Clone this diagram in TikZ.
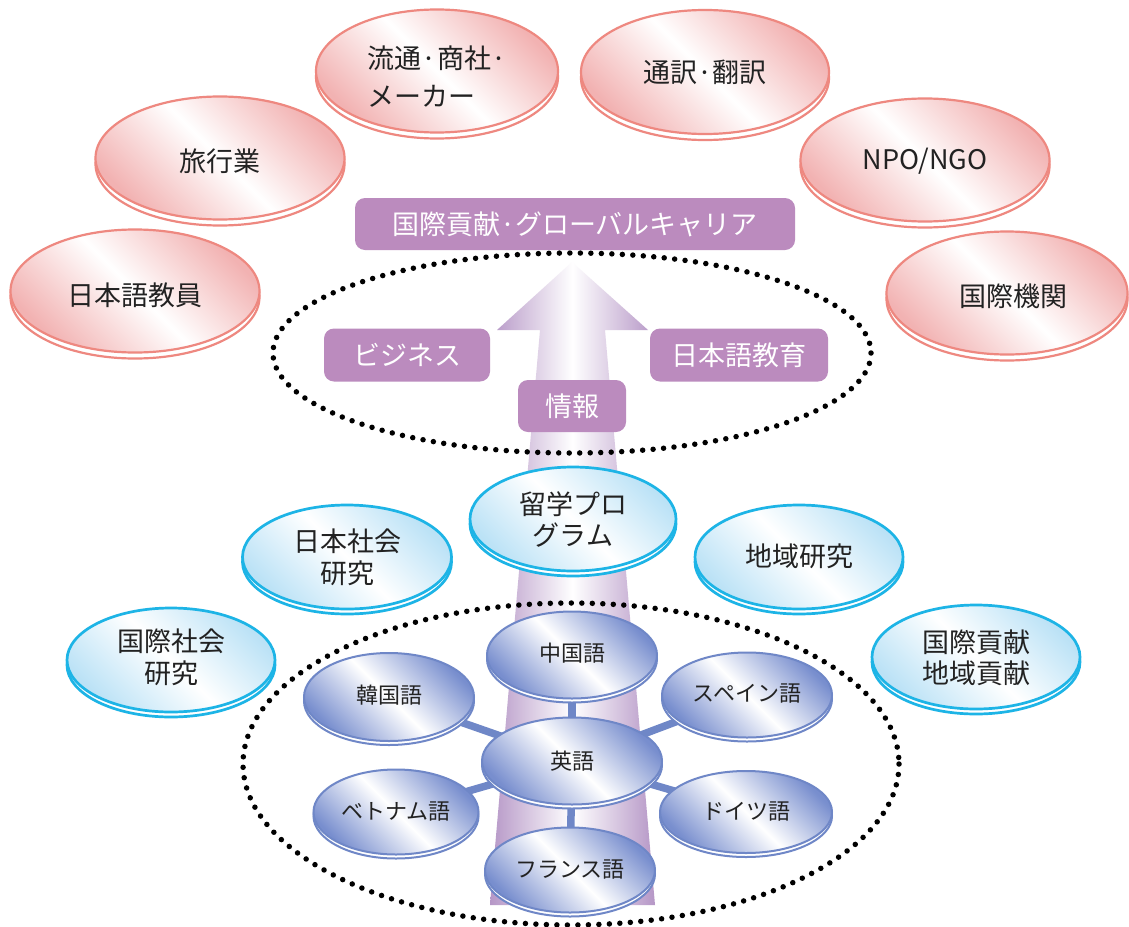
\documentclass[tikz,border=0pt]{standalone}
\usepackage{fontspec}
\setmainfont{Noto Sans CJK JP}
\usetikzlibrary{shapes.geometric}
\definecolor{redline}{HTML}{EE8880}
\definecolor{redfill}{HTML}{F2B2B2}
\definecolor{cyanline}{HTML}{1DB4E6}
\definecolor{cyanfill}{HTML}{BBE2F6}
\definecolor{langline}{HTML}{6F87C7}
\definecolor{langfill}{HTML}{788ECE}
\definecolor{boxpurple}{HTML}{BB8BBE}
\definecolor{arrowpurple}{HTML}{B596C6}
\definecolor{txt}{HTML}{222222}
\pgfdeclarelayer{bg}
\pgfsetlayers{bg,main}
% #1 style prefix, #2 name, #3 x, #4 y, #5 width, #6 height, #7 offset, #8 text, #9 text drop
\newcommand\mydisk[9]{%
  \node[#1back, minimum width=#5pt, minimum height=#6pt] (#2b) at (#3,#4+#7) {};
  \node[#1ell, minimum width=#5pt, minimum height=#6pt] (#2) at (#3,#4)
    {\raisebox{-#9pt}[\height][\depth]{\begin{tabular}{@{}c@{}}#8\end{tabular}}};}
\begin{document}
\begin{tikzpicture}[x=1pt,y=-1pt,
  baseell/.style={ellipse, inner sep=0pt, text=txt, align=center},
  redell/.style={baseell, draw=redline, line width=2.2pt, left color=redfill, right color=redfill, middle color=white, shading angle=-45, font=\fontsize{27}{34}\selectfont},
  redback/.style={baseell, draw=redline, line width=2.2pt, fill=white},
  cyanell/.style={baseell, draw=cyanline, line width=2.7pt, left color=cyanfill, right color=cyanfill, middle color=white, shading angle=-45, font=\fontsize{27}{30}\selectfont},
  cyanback/.style={baseell, draw=cyanline, line width=2.7pt, fill=white},
  langell/.style={baseell, draw=langline, line width=2pt, left color=langfill, right color=langfill, middle color=white, shading angle=-45, font=\fontsize{22}{26}\selectfont},
  langback/.style={baseell, draw=langline, line width=2pt, fill=white},
  pbox/.style={rounded corners=10pt, fill=boxpurple, text=white, inner sep=0pt, font=\fontsize{27}{30}\selectfont},
  dots/.style={line width=5.5pt, dash pattern=on 0pt off 10.5pt, line cap=round, black},
  conn/.style={draw=langline, line width=7.5pt}
]
\useasboundingbox (0,0) rectangle (1129,926);

% red career ellipses
\mydisk{red}{r1}{135}{291}{249}{123}{6}{日本語教員}{8}
\mydisk{red}{r2}{220}{158}{249}{123}{6}{旅行業}{7}
\mydisk{red}{r3}{437}{71}{242}{123}{6}{\begin{tabular}{@{}l@{}}流通·商社·\\[4pt]メーカー\end{tabular}}{10}
\mydisk{red}{r4}{705}{72}{248}{124}{6}{通訳·翻訳}{4}
\mydisk{red}{r5}{925}{160}{249}{123}{6}{NPO/NGO}{3}
\mydisk{red}{r6}{1007}{293}{241}{123}{6}{\hspace*{12pt}国際機関}{7}

% purple boxes
\node[pbox, minimum width=440pt, minimum height=52pt] (career) at (575,224) {国際貢献·グローバルキャリア};

\begin{pgfonlayer}{bg}
  \fill[white] (0,0) rectangle (1129,926);
  % arrow
  \path[left color=arrowpurple, right color=arrowpurple, middle color=white]
    (572,262) -- (648,330) -- (605,330) -- (655,905) -- (490,905) -- (540,330) -- (497,330) -- cycle;
  % dotted rings
  \draw[dots] (572,353) ellipse [x radius=299, y radius=100];
  \draw[dots] (571,764) ellipse [x radius=328, y radius=161];
\end{pgfonlayer}

\node[pbox, minimum width=166pt, minimum height=53pt] (biz) at (407,355) {ビジネス};
\node[pbox, minimum width=178pt, minimum height=53pt] (jpedu) at (739,355) {日本語教育};
\node[pbox, minimum width=108pt, minimum height=52pt] (info) at (572,406) {情報};

% blue study ellipses
\mydisk{cyan}{ryu}{573}{519}{206}{104}{5}{留学プロ\\グラム}{4}
\mydisk{cyan}{nihon}{347}{557}{209}{104}{5}{日本社会\\研究}{4}
\mydisk{cyan}{chiiki}{799}{557}{208}{104}{5}{地域研究}{3}
\mydisk{cyan}{kokusai}{171}{660}{208}{104}{5}{国際社会\\研究}{1}
\mydisk{cyan}{kouken}{976}{657}{208}{104}{5}{国際貢献\\地域貢献}{4}

% languages
\mydisk{lang}{zh}{572}{655}{170}{87}{4}{中国語}{1}
\mydisk{lang}{en}{572}{761}{180}{87}{4}{英語}{3}
\mydisk{lang}{fr}{570}{870}{170}{85}{4}{フランス語}{2}
\mydisk{lang}{ko}{389}{697}{170}{88}{4}{韓国語}{1}
\mydisk{lang}{es}{747}{695}{170}{85}{4}{スペイン語}{1}
\mydisk{lang}{de}{746}{812}{172}{82}{4}{ドイツ語}{2}
\mydisk{lang}{vi}{396}{812}{165}{85}{4}{ベトナム語}{2}

\begin{pgfonlayer}{bg}
  \draw[conn] (en.center) -- (zh.center);
  \draw[conn] (en.center) -- (fr.center);
  \draw[conn] (en.center) -- (ko.center);
  \draw[conn] (en.center) -- (es.center);
  \draw[conn] (en.center) -- (de.center);
  \draw[conn] (en.center) -- (vi.center);
\end{pgfonlayer}
\end{tikzpicture}
\end{document}
